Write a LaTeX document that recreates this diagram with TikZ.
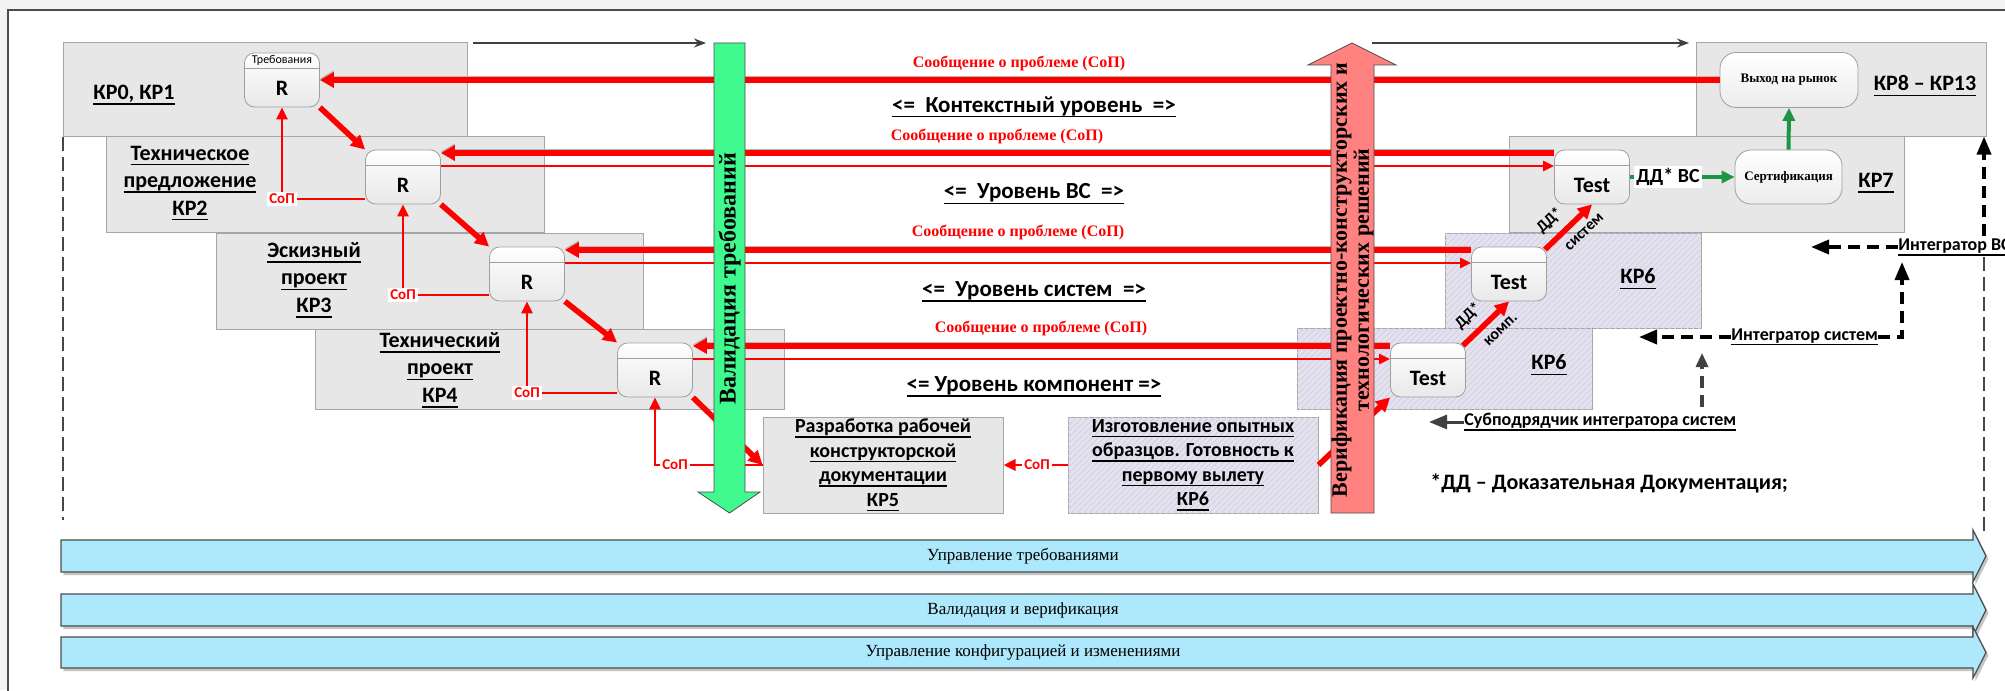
\documentclass[tikz,border=0pt]{standalone}
\usepackage{fontspec}
\setmainfont{Carlito}
\newfontfamily\tnr{Liberation Serif}
\usetikzlibrary{arrows.meta,patterns,calc,shadows}
\definecolor{phasegray}{RGB}{231,231,231}
\definecolor{lav}{RGB}{229,226,239}
\definecolor{lavhatch}{RGB}{212,208,228}
\definecolor{bandblue}{RGB}{174,232,252}
\definecolor{vgreen}{RGB}{64,250,144}
\definecolor{vpink}{RGB}{255,130,128}
\definecolor{dgreen}{RGB}{28,150,68}
\definecolor{bggray}{RGB}{243,243,243}
\definecolor{dk}{RGB}{64,64,64}
\newcommand\ulin[1]{\setbox0\hbox{#1}\rlap{\rule[-2.6pt]{\wd0}{0.8pt}}\box0}
\begin{document}
\begin{tikzpicture}[x=0.5pt,y=-0.5pt,
  phase/.style={draw=gray!70, fill=phasegray, line width=0.5pt, inner sep=0pt},
  lavbox/.style={draw=gray!70, fill=lav, line width=0.5pt, inner sep=0pt, postaction={pattern=north east lines, pattern color=lavhatch}},
  blab/.style={font=\fontsize{11}{13.75}\selectfont\bfseries, align=center, inner sep=0pt},
  mlab/.style={font=\fontsize{10}{12.25}\selectfont\bfseries, align=center, inner sep=0pt},
  rbox/.style={draw=gray!75, rounded corners=5pt, top color=white, bottom color=gray!18, minimum width=37.5pt, minimum height=27pt, inner sep=0pt},
  cbox/.style={draw=gray!75, rounded corners=8pt, top color=white, bottom color=gray!15, inner sep=0pt, font=\tnr\fontsize{6.5}{8}\selectfont\bfseries},
  hdr/.style={draw=gray!75, line width=0.5pt},
  rtxt/.style={font=\fontsize{11}{13}\selectfont\bfseries, inner sep=0pt},
  htxt/.style={font=\fontsize{6}{7}\selectfont, inner sep=0pt},
  soplab/.style={font=\tnr\fontsize{8}{9}\selectfont\bfseries, text=red, inner sep=0pt},
  lvl/.style={font=\fontsize{11.5}{13}\selectfont\bfseries, inner sep=0pt},
  cop/.style={font=\fontsize{7.5}{9}\selectfont\bfseries, text=red, fill=white, inner sep=1pt},
  ddl/.style={font=\fontsize{8}{9}\selectfont\bfseries, inner sep=0pt, sloped},
  intlab/.style={font=\fontsize{9}{11}\selectfont\bfseries, inner sep=0pt, anchor=west},
  thk/.style={draw=red, line width=2.6pt, -{Triangle[length=7pt,width=7.5pt]}, preaction={draw=gray!55, line width=2.6pt, transform canvas={yshift=0.8pt}, -{Triangle[length=7pt,width=7.5pt]}}},
  thn/.style={draw=red, line width=1.2pt, -{Triangle[length=5.5pt,width=5pt]}},
  sop/.style={draw=red, line width=1.4pt},
  sopa/.style={draw=red, line width=1.4pt, -{Triangle[length=6pt,width=5.5pt]}},
  dthk/.style={draw=red, line width=2.8pt, -{Triangle[length=7pt,width=7pt]}},
  garr/.style={draw=dgreen, line width=2pt, -{Triangle[length=6.5pt,width=6pt]}},
  darr/.style={draw=black, line width=1.8pt, dash pattern=on 6pt off 3.5pt, -{Triangle[length=9pt,width=7pt]}},
  gdarr/.style={draw=dk, line width=1.6pt, dash pattern=on 6pt off 3.5pt, -{Triangle[length=7pt,width=6pt]}},
  garrow/.style={draw=dk, line width=1.5pt, -{Triangle[length=9pt,width=7pt]}},
  toparr/.style={draw=dk, line width=0.8pt, -{Stealth[length=6pt,width=4.5pt]}},
  tline/.style={draw=gray!55!black, line width=0.8pt, dash pattern=on 7pt off 3pt},
  band/.style={fill=bandblue, draw=gray!60!black, line width=0.6pt, drop shadow={shadow xshift=1.2pt, shadow yshift=-1.5pt, opacity=0.45}},
  bandtxt/.style={font=\tnr\fontsize{8.5}{10}\selectfont, inner sep=0pt}
]
\useasboundingbox (0,0) rectangle (2005,690);
\fill[bggray] (0,0) rectangle (2005,690);
\draw[fill=white, draw=gray!60!black, line width=0.6pt] (8,10) rectangle (2015,700);

% timeline dashed lines
\coordinate (dl1) at (63,137); \coordinate (dl2) at (63,520);
\draw[tline] (dl1) -- (dl2);
\coordinate (dr1) at (1984,257); \coordinate (dr2) at (1984,535);
\draw[tline] (dr1) -- (dr2);

% phase boxes
\node[phase, minimum width=202pt, minimum height=46.5pt] (B1) at (265,89.5) {};
\node[phase, minimum width=219pt, minimum height=48pt] (B2) at (325,184) {};
\node[phase, minimum width=213.5pt, minimum height=48pt] (B3) at (429.5,281) {};
\node[phase, minimum width=234.5pt, minimum height=40pt] (B4) at (549.5,369) {};
\node[phase, minimum width=145pt, minimum height=46.5pt] (KP8) at (1841,89.5) {};
\node[phase, minimum width=197.5pt, minimum height=48pt] (KP7) at (1706.5,184) {};
\node[lavbox, minimum width=128pt, minimum height=47.5pt] (KP6u) at (1573,280.5) {};
\node[lavbox, minimum width=147.5pt, minimum height=40.5pt] (KP6l) at (1444.5,368.5) {};
\node[phase, minimum width=120pt, minimum height=48pt] (KP5) at (883,465) {};
\node[lavbox, minimum width=125pt, minimum height=48pt] (KP6m) at (1193,465) {};

% box labels
\node[blab] (l1) at (134,95) {\ulin{КР0, КР1}};
\node[blab] (l2) at (190,183) {\ulin{Техническое}\\\ulin{предложение}\\\ulin{КР2}};
\node[blab] (l3) at (314,280) {\ulin{Эскизный}\\\ulin{проект}\\\ulin{КР3}};
\node[blab] (l4) at (440,370) {\ulin{Технический}\\\ulin{проект}\\\ulin{КР4}};
\node[blab] (l8) at (1925,86) {\ulin{КР8 – КР13}};
\node[blab] (l7) at (1876,183) {\ulin{КР7}};
\node[blab] (l6u) at (1638,279) {\ulin{КР6}};
\node[blab] (l6l) at (1549,365) {\ulin{КР6}};
\node[mlab] (l5) at (883,465) {\ulin{Разработка рабочей}\\\ulin{конструкторской}\\\ulin{документации}\\\ulin{КР5}};
\node[mlab] (l6m) at (1193,465) {\ulin{Изготовление опытных}\\\ulin{образцов. Готовность к}\\\ulin{первому вылету}\\\ulin{КР6}};

% R nodes
\node[rbox] (R1) at (282,80) {};
\node[rbox] (R2) at (403,177) {};
\node[rbox] (R3) at (527,274) {};
\node[rbox] (R4) at (655,370) {};
\node[rbox] (T6b) at (1428,370) {};
\node[rbox] (T6a) at (1509,274) {};
\node[rbox] (T7) at (1592,177) {};
\foreach \n in {R1,R2,R3,R4,T6b,T6a,T7}{
  \draw[hdr] ($(\n.north west)+(0,16)$) -- ($(\n.north east)+(0,16)$);
}
\node[rtxt] (R1t) at ($(R1.center)+(0,8)$) {R};
\node[rtxt] (R2t) at ($(R2.center)+(0,8)$) {R};
\node[rtxt] (R3t) at ($(R3.center)+(0,8)$) {R};
\node[rtxt] (R4t) at ($(R4.center)+(0,8)$) {R};
\node[rtxt] (T6bt) at ($(T6b.center)+(0,8)$) {Test};
\node[rtxt] (T6at) at ($(T6a.center)+(0,8)$) {Test};
\node[rtxt] (T7t) at ($(T7.center)+(0,8)$) {Test};
\node[htxt] (R1h) at ($(R1.north)+(0,8)$) {Требования};

\node[cbox, minimum width=53.5pt, minimum height=27pt] (S) at (1788.5,177) {Сертификация};
\node[cbox, minimum width=69pt, minimum height=27.5pt] (M) at (1789,80) {Выход на рынок};

% red horizontal lines
\draw[thk] (M.west) -- (R1.east);
\draw[thk] ([yshift=12pt]T7.west) -- ([yshift=12pt]R2.east);
\draw[thn] ([yshift=5.5pt]R2.east) -- ([yshift=5.5pt]T7.west);
\draw[thk] ([yshift=12pt]T6a.west) -- ([yshift=12pt]R3.east);
\draw[thn] ([yshift=5.5pt]R3.east) -- ([yshift=5.5pt]T6a.west);
\draw[thk] ([yshift=12pt]T6b.west) -- ([yshift=12pt]R4.east);
\draw[thn] ([yshift=5.5pt]R4.east) -- ([yshift=5.5pt]T6b.west);

\node[soplab] (s1) at (1019,63) {Сообщение о проблеме (СоП)};
\node[soplab] (s2) at (997,136) {Сообщение о проблеме (СоП)};
\node[soplab] (s3) at (1018,232) {Сообщение о проблеме (СоП)};
\node[soplab] (s4) at (1041,328) {Сообщение о проблеме (СоП)};

\node[lvl] (lv1) at (1034,107) {\ulin{<=~ Контекстный уровень~ =>}};
\node[lvl] (lv2) at (1034,194) {\ulin{<=~ Уровень ВС~ =>}};
\node[lvl] (lv3) at (1034,292) {\ulin{<=~ Уровень систем~ =>}};
\node[lvl] (lv4) at (1034,387) {\ulin{<= Уровень компонент =>}};

% diagonal arrows
\draw[dthk] (R1.south east) -- (R2.north west);
\draw[dthk] (R2.south east) -- (R3.north west);
\draw[dthk] (R3.south east) -- (R4.north west);
\draw[dthk] (R4.south east) -- (KP5.west);
\draw[dthk] (KP6m.east) -- (T6b.south west);
\draw[dthk] ([xshift=-1.5pt,yshift=-1.5pt]T6b.north east) -- (T6a.south)
  node[ddl, pos=0.38, above=4pt] (dd1) {ДД*} node[ddl, pos=0.6, below=4pt] (kp1) {комп.};
\draw[dthk] ([xshift=-1pt,yshift=-1.5pt]T6a.north east) -- (T7.south)
  node[ddl, pos=0.36, above=4pt] (dd2) {ДД*} node[ddl, pos=0.62, below=4pt] (ks2) {систем};

% CoP feedback
\node[cop] (c1) at (282,199) {СоП};
\draw[sop] (c1.east) -- (c1.east -| R2.west);
\draw[sopa] (c1.north) -- (R1.south);
\node[cop] (c2) at (403,295) {СоП};
\draw[sop] (c2.east) -- (c2.east -| R3.west);
\draw[sopa] (c2.north) -- (R2.south);
\node[cop] (c3) at (527,393) {СоП};
\draw[sop] (c3.east) -- (c3.east -| R4.west);
\draw[sopa] (c3.north) -- (R3.south);
\coordinate (k4) at (R4.south |- KP5.west);
\draw[sopa] (KP5.west) -- (k4) -- (R4.south);
\node[cop] (c4) at (675,465) {СоП};
\draw[sopa] (KP6m.west) -- (KP5.east);
\node[cop] (c5) at (1037,465) {СоП};

% green arrows
\draw[garr] (T7.east) -- (S.west);
\node[font=\fontsize{10}{12}\selectfont\bfseries, fill=white, inner sep=1pt] (dd) at (1668,177) {ДД* ВС};
\draw[garr] (S.north) -- (M.south);

% vertical big arrows
\filldraw[fill=vgreen, draw=gray!60!black, line width=0.4pt] (714,43) -- (745,43) -- (745,492) -- (760,492) -- (729.5,513) -- (698,492) -- (714,492) -- cycle;
\node[rotate=90, font=\tnr\fontsize{12}{12}\selectfont\bfseries, inner sep=0pt] (vg) at (729.5,279) {Валидация требований};
\filldraw[fill=vpink, draw=gray!60!black, line width=0.4pt] (1331,513) -- (1331,65) -- (1308,65) -- (1352,43) -- (1396,65) -- (1374,65) -- (1374,513) -- cycle;
\node[rotate=90, align=center, font=\tnr\fontsize{11}{11}\selectfont\bfseries, inner sep=0pt] (vp) at (1352.5,280) {Верификация проектно-конструкторских и\\технологических решений};

% top thin arrows
\coordinate (ta1) at (473,43); \coordinate (ta2) at (706,43);
\coordinate (ta3) at (1372,43); \coordinate (ta4) at (1689,43);
\draw[toparr] (ta1) -- (ta2);
\draw[toparr] (ta3) -- (ta4);

% integrators
\node[intlab] (iVC) at (1898,247) {\ulin{Интегратор ВС}};
\coordinate (iVCt) at (1811,247);
\draw[darr] (iVC.west) -- (iVCt);
\coordinate (up1a) at (1984,236);
\draw[darr] (up1a) -- (KP8.south -| up1a);
\node[intlab] (iS) at (1731,337) {\ulin{Интегратор систем}};
\coordinate (iSt) at (1639,337);
\draw[darr] (iS.west) -- (iSt);
\coordinate (iSc) at (1902,337);
\coordinate (iSu) at (1902,262);
\draw[darr] (iS.east) -- (iSc) -- (iSu);
\node[intlab] (sub) at (1464,422) {\ulin{Субподрядчик интегратора систем}};
\coordinate (subt) at (1429,422);
\draw[garrow] (sub.west) -- (subt);
\coordinate (sup1) at (1702,407); \coordinate (sup2) at (1702,353);
\draw[gdarr] (sup1) -- (sup2);

\node[font=\fontsize{11}{13}\selectfont\bfseries, inner sep=0pt, anchor=west] (fn) at (1430,483) {*ДД – Доказательная Документация;};

% bands
\filldraw[band] (61,540) -- (1973,540) -- (1973,530) -- (1986,556) -- (1973,582) -- (1973,572) -- (61,572) -- cycle;
\filldraw[band] (61,594) -- (1973,594) -- (1973,584) -- (1986,610) -- (1973,636) -- (1973,626) -- (61,626) -- cycle;
\filldraw[band] (61,637) -- (1973,637) -- (1973,627) -- (1986,652.5) -- (1973,678) -- (1973,668) -- (61,668) -- cycle;
\node[bandtxt] (bt1) at (1023,556) {Управление требованиями};
\node[bandtxt] (bt2) at (1023,610) {Валидация и верификация};
\node[bandtxt] (bt3) at (1023,652.5) {Управление конфигурацией и изменениями};
\end{tikzpicture}
\end{document}
